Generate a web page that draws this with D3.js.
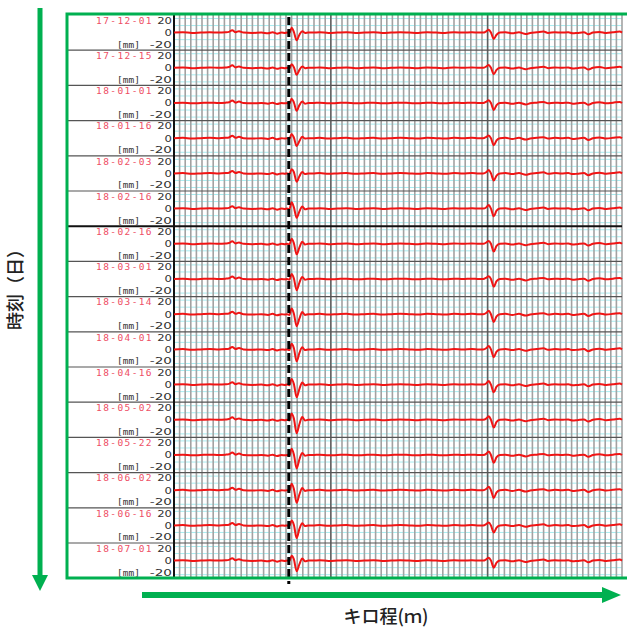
<!DOCTYPE html>
<html>
<head>
<meta charset="utf-8">
<script src="https://cdn.jsdelivr.net/npm/d3@7"></script>
<style>
  html, body { margin: 0; padding: 0; background: #fff; }
  svg { display: block; }
</style>
</head>
<body>
<svg id="chart" width="627" height="628"></svg>
<script>
// Survey dates, one strip per measurement run
const dates = ["17-12-01", "17-12-15", "18-01-01", "18-01-16", "18-02-03", "18-02-16",
               "18-02-16", "18-03-01", "18-03-14", "18-04-01", "18-04-16", "18-05-02",
               "18-05-22", "18-06-02", "18-06-16", "18-07-01"];

// Vertical tick labels of each strip (mm)
const yTicks = [20, 0, -20];

// Chainage span (m) and grid spacing
const chainageDomain = [0, 400];
const minorStep = 5;
const majorMarks = [140, 280];
const jointMark = 102.5;

// Common irregularity profile along the track (chainage m, deviation mm)
const baseM = [0, 8, 16, 24, 32, 40, 46, 49, 52, 55, 58, 62, 70, 78, 84, 88, 92, 96, 99,
               124, 130, 138, 146, 154, 162, 170, 178, 186, 194, 202, 210, 218, 226, 234, 242, 250, 258, 266, 272,
               296, 302, 308, 314, 318, 324, 330, 334, 340, 346, 352, 356, 360, 366, 370, 374, 380, 386, 392, 398, 400];
const baseV = [0, 0.5, -0.5, 0, 0.5, 0, 0.5, 1, 3.5, 0.5, 2, 0, -0.5, 0, -1, 0.5, -1.5, 0, -0.5,
               0, 0.5, -0.5, 0, 0.5, -0.5, 0, 0.5, -0.5, 0, 0.5, 0, -0.5, 0.5, 0, -0.5, 0.5, 0, 0.5, 0,
               0.5, -1, 0.5, -2, -0.5, 0.5, 1.5, -0.5, 0.5, 0, 0.5, -1, -0.5, 0.5, -2.5, 0, 1, -0.5, 0.5, 1.5, 0];

// Waveform at the rail joint, per survey
const jointM = [101, 103, 105, 107, 109.5, 112, 114.5, 117, 120];
const jointV = [
  [0, -1, 7, 1, -11, -3, 2, -0.5, 0],
  [0, -1, 5, 1, -10, -3, 2, -0.5, 0],
  [0, -1, 6, 1, -11, -3, 2, -1, 0],
  [0, -1, 6, 1, -11, -4, 2, -0.5, 0],
  [0, -1, 6, 2, -12, -4, 2, -1, 0],
  [0, -1, 9, 2, -13, -4, 3, -1, 0],
  [0, -1, 7, 1, -15, -5, 3, -1, 0],
  [0, -1, 7, 1, -16, -5, 3, -1, 0],
  [0, -1, 8, 1, -17, -6, 3, -1, 0],
  [0, -1, 8, 2, -17, -5, 3, -1, 0],
  [0, -1, 8, 1, -18, -6, 3, -1, 0],
  [0, -1, 9, 2, -19, -6, 4, -1, 0],
  [0, -1, 9, 1, -19, -6, 3, -1, 0],
  [0, -1, 9, 2, -18, -6, 3, -1, 0],
  [0, -1, 7, 1, -18, -5, 3, -1, 0],
  [0, -1, 7, 2, -15, -5, 3, -1, 0]
];

// Second local defect further along the line, per survey
const kinkM = [276, 279, 281, 283, 285.5, 288, 291];
const kinkV = [
  [0, 2, 4, 0, -9, -3, 0],
  [0, 2, 4, 0, -9, -3, 0],
  [0, 2, 4, 0, -10, -3, 0],
  [0, 2, 4, 0, -10, -3, 0],
  [0, 2, 5, 0, -10, -3, 0],
  [0, 2, 5, 0, -11, -3, 0],
  [0, 2, 4, 0, -11, -3, 0],
  [0, 2, 4, 0, -11, -3, 0],
  [0, 2, 5, 0, -11, -3, 0],
  [0, 2, 5, 0, -11, -3, 0],
  [0, 2, 5, 0, -11, -3, 0],
  [0, 2, 5, 0, -11, -3, 0],
  [0, 2, 5, 0, -11, -3, 0],
  [0, 2, 5, 0, -11, -3, 0],
  [0, 2, 4, 0, -10, -3, 0],
  [0, 2, 4, 0, -10, -3, 0]
];

const svg = d3.select("#chart");
const green = "#00b050";

const frame = { left: 67, top: 14, bottom: 578 };
const plot = { left: 174, right: 622, top: 15 };
const stripH = 35.2;

const x = d3.scaleLinear().domain(chainageDomain).range([plot.left, plot.right]);
const stripScale = d3.scaleBand().domain(dates.map((d, i) => i))
  .range([plot.top, plot.top + stripH * dates.length]).paddingInner(0).paddingOuter(0);

const gridG = svg.append("g");
const minorTicks = d3.range(chainageDomain[0], chainageDomain[1] + 0.001, minorStep);
const plotBottom = plot.top + stripH * dates.length;

// cyan reference lines inside each strip
dates.forEach((d, i) => {
  const top = stripScale(i);
  const y = d3.scaleLinear().domain([-25, 25]).range([top + stripH, top]);
  [-20, -10, 10, 20].forEach(v => {
    gridG.append("line")
      .attr("x1", plot.left).attr("x2", plot.right)
      .attr("y1", y(v)).attr("y2", y(v))
      .attr("stroke", "#a6ecf0").attr("stroke-width", 1);
  });
});

// vertical chainage grid
gridG.selectAll("line.minor").data(minorTicks).join("line")
  .attr("class", "minor")
  .attr("x1", d => x(d)).attr("x2", d => x(d))
  .attr("y1", plot.top).attr("y2", plotBottom)
  .attr("stroke", "#a2a2a2").attr("stroke-width", 1.6);

gridG.selectAll("line.major").data(majorMarks).join("line")
  .attr("class", "major")
  .attr("x1", d => x(d)).attr("x2", d => x(d))
  .attr("y1", plot.top).attr("y2", plotBottom)
  .attr("stroke", "#606060").attr("stroke-width", 1.4);

// Strip separators
d3.range(1, dates.length).forEach(k => {
  const yy = stripScale(k);
  gridG.append("line")
    .attr("x1", frame.left).attr("x2", plot.right)
    .attr("y1", yy).attr("y2", yy)
    .attr("stroke", k === 6 ? "#111" : "#555")
    .attr("stroke-width", k === 6 ? 2 : 1.2);
});

// Left edge of the plotting area
gridG.append("line")
  .attr("x1", plot.left).attr("x2", plot.left)
  .attr("y1", frame.top).attr("y2", frame.bottom)
  .attr("stroke", "#111").attr("stroke-width", 2);

// Traces and strip labels
const line = d3.line().x(d => x(d[0])).curve(d3.curveMonotoneX);
dates.forEach((d, i) => {
  const top = stripScale(i);
  const y = d3.scaleLinear().domain([-25, 25]).range([top + stripH, top]);
  const pts = [];
  baseM.forEach((m, j) => pts.push([m, baseV[j]]));
  jointM.forEach((m, j) => pts.push([m, jointV[i][j]]));
  kinkM.forEach((m, j) => pts.push([m, kinkV[i][j]]));
  pts.sort((a, b) => a[0] - b[0]);
  svg.append("path")
    .attr("d", line.y(p => y(p[1]))(pts))
    .attr("fill", "none")
    .attr("stroke", "#f01414")
    .attr("stroke-width", 2)
    .attr("stroke-linejoin", "round");

  const g = svg.append("g");
  g.append("text")
    .attr("x", 153).attr("y", top + 8.8)
    .attr("text-anchor", "end")
    .attr("font-family", "DejaVu Sans Mono")
    .attr("font-size", 9.5).attr("letter-spacing", 1.4)
    .attr("fill", "#ee4e64")
    .text(d);
  const tickY = [top + 8.8, top + 20.9, top + 32.6];
  yTicks.forEach((t, j) => {
    const s = String(t);
    g.append("text")
      .attr("x", 172).attr("y", tickY[j])
      .attr("text-anchor", "end")
      .attr("font-family", "DejaVu Sans")
      .attr("font-size", 9.5)
      .attr("textLength", s.length * 7.4)
      .attr("lengthAdjust", "spacingAndGlyphs")
      .attr("fill", "#333")
      .text(s);
  });
  g.append("text")
    .attr("x", 140).attr("y", top + 32.6)
    .attr("text-anchor", "end")
    .attr("font-family", "DejaVu Sans Mono")
    .attr("font-size", 9.5)
    .attr("fill", "#333")
    .text("[mm]");
});

// Rail joint marker
svg.append("line")
  .attr("x1", x(jointMark)).attr("x2", x(jointMark))
  .attr("y1", 17).attr("y2", 584)
  .attr("stroke", "#000").attr("stroke-width", 3)
  .attr("stroke-dasharray", "8,4");

// Outer frame
svg.append("path")
  .attr("d", `M629,${frame.top}H${frame.left}V${frame.bottom}H629`)
  .attr("stroke", green).attr("stroke-width", 3).attr("fill", "none");

// Axis arrows
const arrows = svg.append("g").attr("fill", green);
arrows.append("rect").attr("x", 37.5).attr("y", 8).attr("width", 5).attr("height", 570);
arrows.append("path").attr("d", "M32,575L48,575L40,591Z");
arrows.append("rect").attr("x", 142).attr("y", 592).attr("width", 462).attr("height", 6);
arrows.append("path").attr("d", "M602,587L602,603L621,595Z");

// Axis titles
svg.append("text")
  .attr("transform", "translate(22,285) rotate(-90)")
  .attr("text-anchor", "middle")
  .attr("font-family", "Noto Sans CJK JP")
  .attr("font-size", 18).attr("font-weight", 500)
  .attr("fill", "#222")
  .text("時刻（日）");
svg.append("text")
  .attr("x", 386).attr("y", 623)
  .attr("text-anchor", "middle")
  .attr("font-family", "Noto Sans CJK JP")
  .attr("font-size", 18).attr("font-weight", 500)
  .attr("fill", "#222")
  .text("キロ程(ｍ)");
</script>
</body>
</html>
